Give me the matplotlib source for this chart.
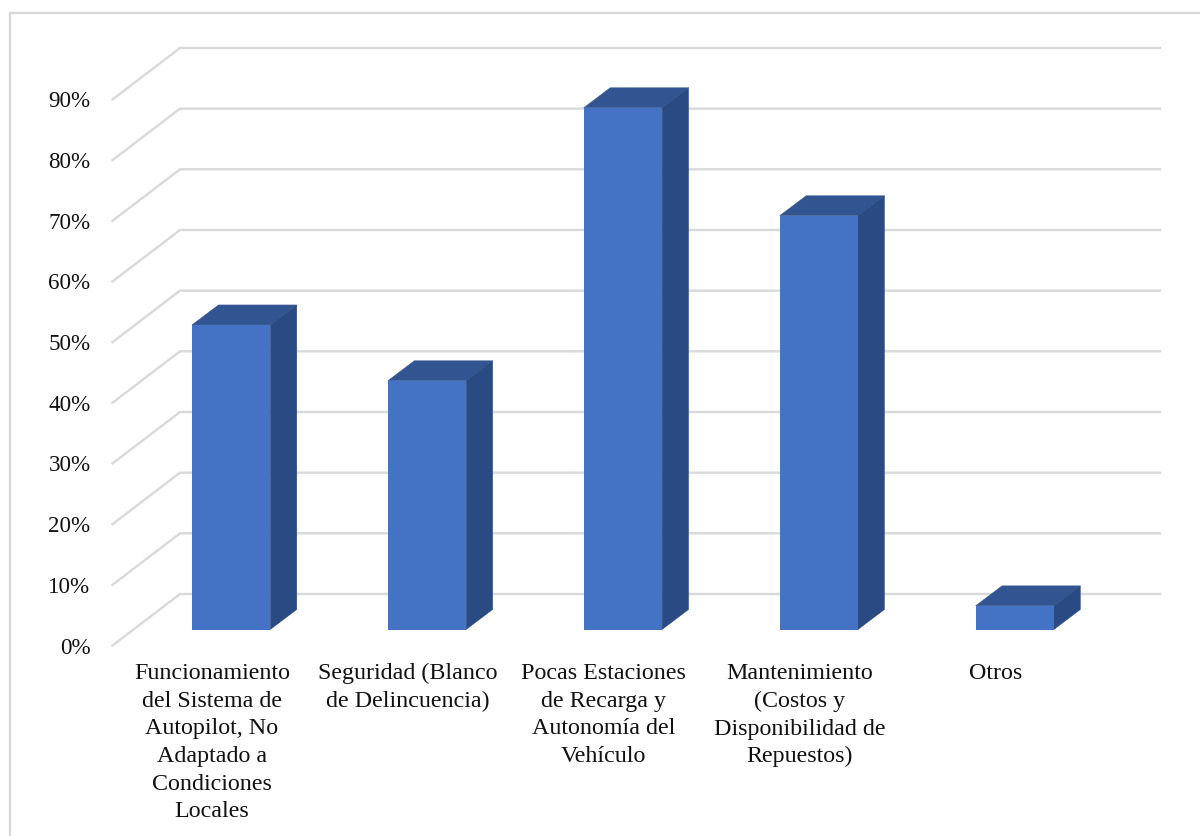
import matplotlib
matplotlib.use('Agg')
import matplotlib.pyplot as plt
from matplotlib.patches import Polygon

plt.rcParams['font.family'] = ['Liberation Serif', 'DejaVu Serif']

categories = [
    'Funcionamiento\ndel Sistema de\nAutopilot, No\nAdaptado a\nCondiciones\nLocales',
    'Seguridad (Blanco\nde Delincuencia)',
    'Pocas Estaciones\nde Recarga y\nAutonomía del\nVehículo',
    'Mantenimiento\n(Costos y\nDisponibilidad de\nRepuestos)',
    'Otros',
]
values = [50.2, 41, 86, 68.2, 3.9]
ticks = [0, 10, 20, 30, 40, 50, 60, 70, 80, 90]

W, H = 1200, 836
UNIT_X = 195.9     # px per category
UNIT_Y = 6.067     # px per percentage point
X0, Y0 = 211.8, 629.5   # first category, base of the bars

BAR_W = 78.4 / UNIT_X
BAR_SHIFT = 19.3 / UNIT_X
DEPTH_X, DEPTH_Y = 26.5 / UNIT_X, 20 / UNIT_Y
WALL_X0 = (180 - X0) / UNIT_X
WALL_X1 = (1160 - X0) / UNIT_X
WALL_Y0 = (Y0 - 594) / UNIT_Y
FRONT_X = (112.5 - X0) / UNIT_X
FRONT_Y = (Y0 - 645.5) / UNIT_Y

GRID = '#d9d9d9'
FRONT = '#4472c4'
TOP = '#325592'
SIDE = '#294a82'

fig = plt.figure(figsize=(W / 100, H / 100), dpi=100)
ax = fig.add_axes([0, 0, 1, 1])
ax.set_xlim(-X0 / UNIT_X, (W - X0) / UNIT_X)
ax.set_ylim((Y0 - H) / UNIT_Y, Y0 / UNIT_Y)
ax.axis('off')

# chart frame, only the top and left edges fall inside the canvas
fig.add_artist(plt.Line2D([0.008, 0.008, 1], [0, 0.984, 0.984], color=GRID, lw=1.7,
                          solid_joinstyle='miter'))

# floor and wall gridlines
for t in ticks:
    ax.plot([FRONT_X, WALL_X0, WALL_X1],
            [FRONT_Y + t, WALL_Y0 + t, WALL_Y0 + t],
            color=GRID, lw=1.7, solid_joinstyle='miter', zorder=1)
    ax.text(FRONT_X - 22 / UNIT_X, FRONT_Y + t - 8 / UNIT_Y, f'{t}%', ha='right', va='baseline',
            fontsize=16.6, color='#111111')

# 3D columns
for i, v in enumerate(values):
    l = i + BAR_SHIFT - BAR_W / 2
    r = l + BAR_W
    ax.add_patch(Polygon([(l, v), (r, v), (r + DEPTH_X, v + DEPTH_Y), (l + DEPTH_X, v + DEPTH_Y)],
                         fc=TOP, ec=TOP, lw=0.3, zorder=3))
    ax.add_patch(Polygon([(r, 0), (r + DEPTH_X, DEPTH_Y), (r + DEPTH_X, v + DEPTH_Y), (r, v)],
                         fc=SIDE, ec=SIDE, lw=0.3, zorder=3))
    ax.bar(i + BAR_SHIFT, v, BAR_W, color=FRONT, zorder=4)

    ax.text(i, (Y0 - 663) / UNIT_Y, categories[i], ha='center', va='top',
            fontsize=17.3, color='#111111', linespacing=1.415)

fig.savefig('out.png', dpi=100)
